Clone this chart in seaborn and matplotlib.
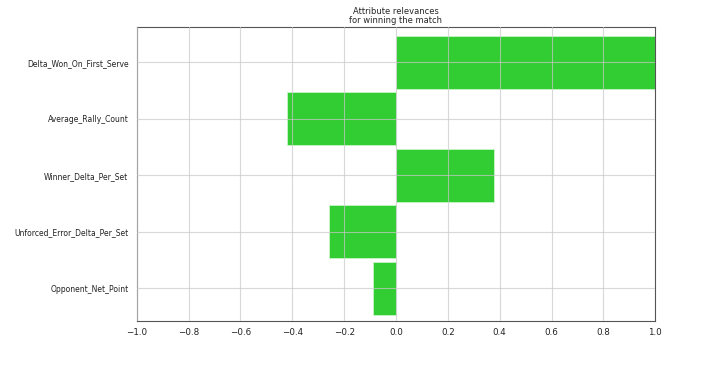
import matplotlib
matplotlib.use("Agg")
import matplotlib.pyplot as plt
import seaborn as sns
import pandas as pd

attributes = ["Delta_Won_On_First_Serve", "Average_Rally_Count", "Winner_Delta_Per_Set",
              "Unforced_Error_Delta_Per_Set", "Opponent_Net_Point"]
relevances = [1.0, -0.42, 0.38, -0.26, -0.09]
xticks = [-1.0, -0.8, -0.6, -0.4, -0.2, 0.0, 0.2, 0.4, 0.6, 0.8, 1.0]

df = pd.DataFrame({"attribute": attributes, "relevance": relevances})

sns.set_style("white")
plt.rcParams['font.family'] = ['DejaVu Sans']

fig = plt.figure(figsize=(7.2, 3.67), dpi=100)
ax = fig.add_axes([0.190, 0.125, 0.720, 0.801])

sns.barplot(data=df, x="relevance", y="attribute", orient="h", color="#32CD32",
            saturation=1, width=0.94, edgecolor="#c8f5c8", linewidth=0.6, ax=ax)

ax.set_xlim(-1.0, 1.0)
ax.set_ylim(4.58, -0.62)
ax.set_xticks(xticks)
ax.set_xticklabels([f"{t:.1f}".replace("-", "\u2212") for t in xticks])
ax.set_xlabel("")
ax.set_ylabel("")
ax.set_title("Attribute relevances\nfor winning the match", fontsize=6, pad=3, linespacing=1.0)
ax.tick_params(axis="y", labelsize=5.5, length=3, width=0.6, colors="#222222", pad=3)
ax.tick_params(axis="x", labelsize=6.3, length=3, width=0.6, colors="#222222", pad=2)
ax.set_axisbelow(False)
ax.grid(True, color="#c8c8c8", linewidth=0.8, alpha=0.7)
for s in ax.spines.values():
    s.set_visible(True)
    s.set_color("#555555")
    s.set_linewidth(0.8)

fig.savefig("out.png", dpi=100)
